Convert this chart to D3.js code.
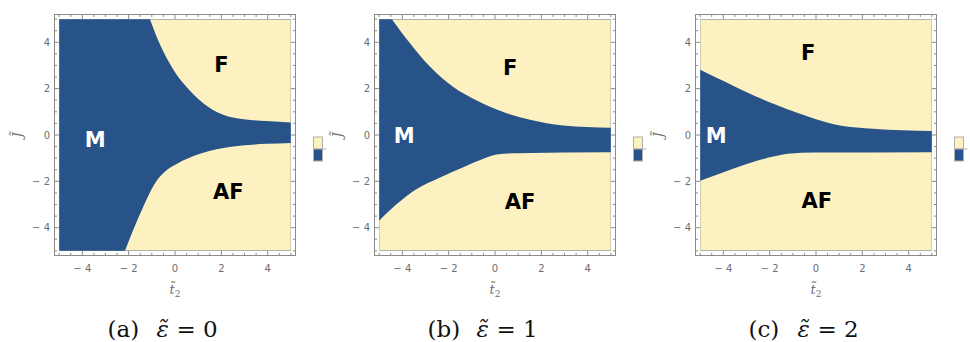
<!DOCTYPE html>
<html>
<head>
<meta charset="utf-8">
<script src="https://cdn.jsdelivr.net/npm/d3@7"></script>
<style>
  body { margin: 0; background: #fff; }
  svg { display: block; }
</style>
</head>
<body>
<svg width="970" height="342"></svg>
<script>
// phase boundaries (t2 on x, J on y)
const upperA_t = [-1.08, -0.69, -0.40, -0.07, 0.50, 1.08, 1.80, 2.30, 2.80, 3.95, 5.0];
const upperA_J = [5.0, 4.0, 3.40, 2.82, 2.07, 1.49, 0.99, 0.80, 0.70, 0.60, 0.54];
const lowerA_t = [-2.16, -1.51, -0.79, -0.40, 0.07, 1.08, 2.51, 3.95, 5.0];
const lowerA_J = [-5.0, -3.41, -1.97, -1.55, -1.25, -0.81, -0.50, -0.38, -0.34];

const upperB_t = [-4.45, -3.66, -2.80, -1.80, -0.79, 0.36, 1.51, 2.94, 5.0];
const upperB_J = [5.0, 3.95, 2.94, 2.07, 1.49, 0.99, 0.66, 0.41, 0.31];
const lowerB_t = [-5.0, -4.24, -3.38, -2.37, -1.37, -0.50, 0.07, 0.93, 5.0];
const lowerB_J = [-3.70, -2.98, -2.33, -1.83, -1.39, -1.03, -0.84, -0.79, -0.74];

const upperC_t = [-5.0, -3.99, -2.99, -1.84, -0.69, 0.0, 1.03, 2.47, 5.0];
const upperC_J = [2.82, 2.33, 1.85, 1.35, 0.92, 0.68, 0.41, 0.27, 0.17];
const lowerC_t = [-5.0, -3.99, -2.99, -1.84, -1.22, -0.07, 5.0];
const lowerC_J = [-1.97, -1.61, -1.25, -0.93, -0.81, -0.76, -0.74];

const majorTicks = [-4, -2, 0, 2, 4];
const captions = ["(a)", "(b)", "(c)"];
const epsValues = ["0", "1", "2"];
const phaseNames = ["F", "AF", "M"];
// label anchor points in data coords, per panel
const labelsA = [[2.0, 3.03], [2.3, -2.43], [-3.44, -0.2]];
const labelsB = [[0.65, 2.92], [1.08, -2.88], [-3.92, -0.02]];
const labelsC = [[-0.34, 3.55], [0.04, -2.84], [-4.31, -0.02]];

const blue = "#275389", cream = "#fdf1c1";
const frameCol = "#8a8a8a", labelCol = "#6e6e6e";

const zip = (a, b) => a.map((v, i) => [v, b[i]]);
const panels = [
  {left: 54.5, upper: zip(upperA_t, upperA_J), lower: zip(lowerA_t, lowerA_J), labels: labelsA},
  {left: 374.5, upper: zip(upperB_t, upperB_J), lower: zip(lowerB_t, lowerB_J), labels: labelsB},
  {left: 695.5, upper: zip(upperC_t, upperC_J), lower: zip(lowerC_t, lowerC_J), labels: labelsC}
];

const svg = d3.select("svg");
const defs = svg.append("defs");
const size = 241, frameTop = 14.5;

panels.forEach((p, k) => {
  const x = d3.scaleLinear().domain([-5.2, 5.2]).range([p.left, p.left + size]);
  const y = d3.scaleLinear().domain([-5.2, 5.2]).range([frameTop + size, frameTop]);
  const g = svg.append("g");

  defs.append("clipPath").attr("id", "clip" + k)
    .append("rect")
    .attr("x", x(-5)).attr("y", y(5))
    .attr("width", x(5) - x(-5)).attr("height", y(-5) - y(5));

  // whole plot blue (M), then cut out F above and AF below
  g.append("rect")
    .attr("x", x(-5)).attr("y", y(5))
    .attr("width", x(5) - x(-5)).attr("height", y(-5) - y(5))
    .attr("fill", blue);

  const line = d3.line().x(d => x(d[0])).y(d => y(d[1])).curve(d3.curveMonotoneX);
  const fPath = line(p.upper) + `L${x(5)},${y(5)}L${x(-5)},${y(5)}Z`;
  const afPath = line(p.lower) + `L${x(5)},${y(-5)}L${x(-5)},${y(-5)}Z`;
  [fPath, afPath].forEach(d => {
    g.append("path")
      .attr("d", d)
      .attr("fill", cream)
      .attr("clip-path", `url(#clip${k})`);
  });

  // frame + inward ticks on all sides
  g.append("rect")
    .attr("x", p.left).attr("y", frameTop)
    .attr("width", size).attr("height", size)
    .attr("fill", "none").attr("stroke", frameCol).attr("stroke-width", 1);

  const all = d3.range(-10, 11).map(i => i / 2);
  all.forEach(v => {
    const len = majorTicks.includes(v) ? 4.5 : 2.5;
    g.append("line").attr("x1", x(v)).attr("x2", x(v)).attr("y1", frameTop + size).attr("y2", frameTop + size - len)
      .attr("stroke", frameCol);
    g.append("line").attr("x1", x(v)).attr("x2", x(v)).attr("y1", frameTop).attr("y2", frameTop + len)
      .attr("stroke", frameCol);
    g.append("line").attr("y1", y(v)).attr("y2", y(v)).attr("x1", p.left).attr("x2", p.left + len)
      .attr("stroke", frameCol);
    g.append("line").attr("y1", y(v)).attr("y2", y(v)).attr("x1", p.left + size).attr("x2", p.left + size - len)
      .attr("stroke", frameCol);
  });

  const fmt = v => v < 0 ? "\u2212 " + Math.abs(v) : String(v);
  g.selectAll(".xt").data(majorTicks).enter().append("text")
    .attr("x", v => x(v)).attr("y", frameTop + size + 16)
    .attr("text-anchor", "middle")
    .style("font", "10px 'DejaVu Sans'").attr("fill", labelCol)
    .text(fmt);
  g.selectAll(".yt").data(majorTicks).enter().append("text")
    .attr("x", p.left - 4.5).attr("y", v => y(v) + 3.5)
    .attr("text-anchor", "end")
    .style("font", "10px 'DejaVu Sans'").attr("fill", labelCol)
    .text(fmt);

  // axis titles
  const xt = g.append("text")
    .attr("x", x(0)).attr("y", 294)
    .attr("text-anchor", "middle")
    .style("font", "italic 13px 'DejaVu Serif'").attr("fill", labelCol);
  xt.append("tspan").text("t\u0303");
  xt.append("tspan").attr("dy", 3).style("font-size", "9px").style("font-style", "normal").text("2");

  g.append("text")
    .attr("transform", `translate(${p.left - 33},${y(0)}) rotate(-90)`)
    .attr("text-anchor", "middle")
    .style("font", "italic 13px 'DejaVu Serif'").attr("fill", labelCol)
    .text("J\u0303");

  // phase names
  g.selectAll(".ph").data(p.labels).enter().append("text")
    .attr("x", d => x(d[0])).attr("y", d => y(d[1]) + 7.5)
    .attr("text-anchor", "middle")
    .style("font", "bold 21px 'DejaVu Sans'")
    .attr("fill", (d, i) => phaseNames[i] === "M" ? "#fff" : "#000")
    .text((d, i) => phaseNames[i]);

  // small legend
  const lx = p.left + size + 18;
  g.append("rect").attr("x", lx).attr("y", 137).attr("width", 9).attr("height", 12)
    .attr("fill", cream).attr("stroke", "#b0b0b0");
  g.append("rect").attr("x", lx).attr("y", 149).attr("width", 9).attr("height", 12)
    .attr("fill", blue).attr("stroke", "#b0b0b0");
  g.append("line").attr("x1", lx + 9).attr("x2", lx + 13).attr("y1", 149).attr("y2", 149)
    .attr("stroke", "#b0b0b0");

  // caption
  const capFont = "23px 'DejaVu Serif'";
  g.append("text").attr("x", p.left + 53).attr("y", 337)
    .style("font", capFont).attr("fill", "#111").text(captions[k]);
  g.append("text").attr("x", p.left + 102).attr("y", 337)
    .style("font", "italic " + capFont).attr("fill", "#111").text("\u03b5\u0303");
  g.append("text").attr("x", p.left + 122).attr("y", 337)
    .style("font", capFont).attr("fill", "#111").text("= " + epsValues[k]);
});
</script>
</body>
</html>
